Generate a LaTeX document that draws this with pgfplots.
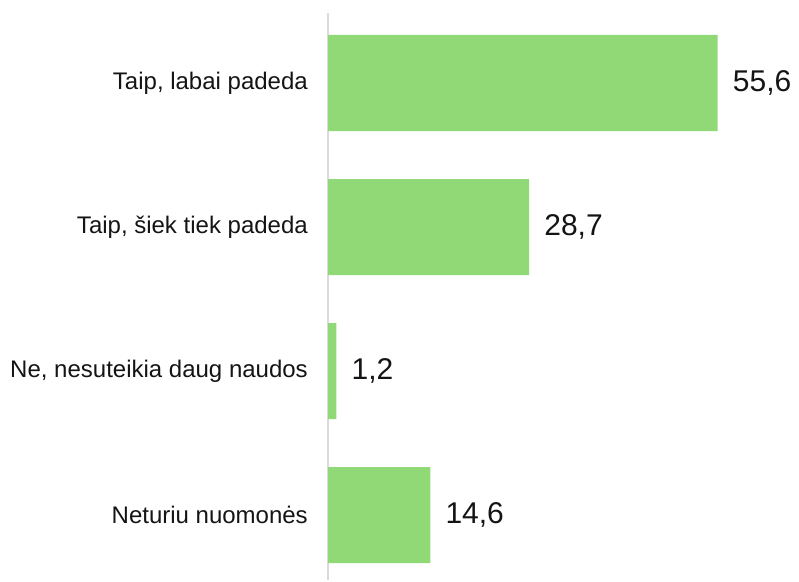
\documentclass[border=0pt]{standalone}
\usepackage{pgfplots}
\pgfplotsset{compat=1.18}
\usepackage{fontspec}
\setmainfont{Liberation Sans}
\definecolor{bargreen}{RGB}{145,217,118}
\definecolor{axisgray}{RGB}{217,217,217}
\definecolor{txt}{RGB}{20,20,20}
\begin{document}
\begin{tikzpicture}
\useasboundingbox (0,0) rectangle (799bp,-582bp);
\begin{axis}[
  at={(328bp,-580bp)}, anchor=south west,
  scale only axis, width=448.6bp, height=567bp,
  xbar, bar width=96bp,
  xmin=0, xmax=64,
  ymin=-0.486, ymax=3.451, y dir=reverse,
  axis x line=none,
  axis y line*=left,
  y axis line style={draw=axisgray, line width=2bp, -},
  ytick={0,1,2,3},
  yticklabels={{Taip, labai padeda}, {Taip, šiek tiek padeda}, {Ne, nesuteikia daug naudos}, {Neturiu nuomonės}},
  major tick length=0pt,
  yticklabel style={font=\fontsize{24bp}{28bp}\selectfont, text=txt, anchor=east, inner sep=0pt, xshift=-20bp},
  clip=false,
  nodes near coords,
  point meta=explicit symbolic,
  nodes near coords style={anchor=west, inner sep=0pt, xshift=15bp, font=\fontsize{30bp}{34bp}\selectfont, text=txt},
]
\addplot[fill=bargreen, draw=none] coordinates {
  (55.6,0) [55,6]
  (28.7,1) [28,7]
  (1.2,2) [1,2]
  (14.6,3) [14,6]
};
\end{axis}
\end{tikzpicture}
\end{document}
